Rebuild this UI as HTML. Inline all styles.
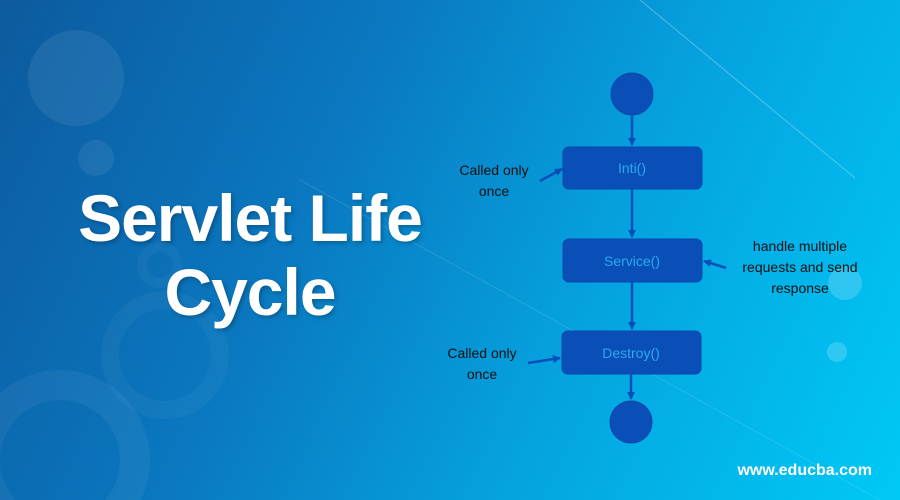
<!DOCTYPE html>
<html><head><style>
html,body{margin:0;padding:0;width:900px;height:500px;overflow:hidden}
body{position:relative;font-family:"Liberation Sans",sans-serif;
background:linear-gradient(115deg,#0d5a9e 0%,#0a78c0 35%,#05a3e0 65%,#00c9f6 100%);}
.t{position:absolute;color:#fff;font-weight:bold;font-size:66px;line-height:76px;text-align:center;width:500px;left:0;text-shadow:2px 2px 4px rgba(0,0,0,.25);transform:scaleX(1.0);transform-origin:248px 0;letter-spacing:-1px}
.lab{position:absolute;color:#111;font-size:14px;text-align:center;line-height:21px}
.foot{position:absolute;right:28px;top:462px;color:#fff;font-weight:bold;font-size:16px}
</style></head><body>
<svg width="900" height="500" style="position:absolute;left:0;top:0">
<circle cx="76" cy="78" r="48" fill="#fff" opacity="0.07"/>
<circle cx="96" cy="158" r="18" fill="#fff" opacity="0.07"/>
<circle cx="165" cy="355" r="55" fill="none" stroke="#fff" stroke-opacity="0.04" stroke-width="18"/>
<circle cx="60" cy="460" r="75" fill="none" stroke="#fff" stroke-opacity="0.05" stroke-width="30"/>
<circle cx="160" cy="265" r="18" fill="none" stroke="#fff" stroke-opacity="0.04" stroke-width="10"/>
<line x1="640" y1="0" x2="855" y2="178" stroke="#fff" stroke-opacity="0.3"/>
<line x1="300" y1="180" x2="880" y2="500" stroke="#fff" stroke-opacity="0.12"/>
<circle cx="845" cy="283" r="17" fill="#fff" opacity="0.18"/>
<circle cx="837" cy="352" r="10" fill="#fff" opacity="0.18"/>
<defs><marker id="a" markerWidth="8" markerHeight="8" refX="7" refY="4" orient="auto" markerUnits="userSpaceOnUse"><path d="M0,0 L8,4 L0,8z" fill="#0a4fb8"/></marker></defs>
<g stroke="#0a4fb8" stroke-width="2.5" fill="none">
<line x1="632" y1="115" x2="632" y2="145" marker-end="url(#a)"/>
<line x1="632" y1="189" x2="632" y2="237" marker-end="url(#a)"/>
<line x1="632" y1="282" x2="632" y2="329" marker-end="url(#a)"/>
<line x1="631" y1="374" x2="631" y2="399" marker-end="url(#a)"/>
<line x1="540" y1="181" x2="562" y2="169" marker-end="url(#a)"/>
<line x1="726" y1="268" x2="704" y2="261" marker-end="url(#a)"/>
<line x1="528" y1="363" x2="560" y2="358" marker-end="url(#a)"/>
</g>
<g fill="#0a4fb8" stroke="#0947a8">
<circle cx="632" cy="94" r="21"/>
<circle cx="631" cy="422" r="21"/>
<rect x="563" y="147" width="139" height="42" rx="6"/>
<rect x="563" y="239" width="139" height="43" rx="6"/>
<rect x="562" y="331" width="139" height="43" rx="6"/>
</g>
<g fill="#2aa8f0" font-family="Liberation Sans,sans-serif" font-size="14" text-anchor="middle">
<text x="632" y="173">Inti()</text>
<text x="632" y="266">Service()</text>
<text x="631" y="358">Destroy()</text>
</g>
</svg>
<div class="t" style="top:180px">Servlet Life</div>
<div class="t" style="top:254px">Cycle</div>
<div class="lab" style="left:444px;top:160px;width:100px">Called only<br>once</div>
<div class="lab" style="left:432px;top:343px;width:100px">Called only<br>once</div>
<div class="lab" style="left:725px;top:236px;width:150px">handle multiple<br>requests and send<br>response</div>
<div class="foot">www.educba.com</div>
</body></html>
